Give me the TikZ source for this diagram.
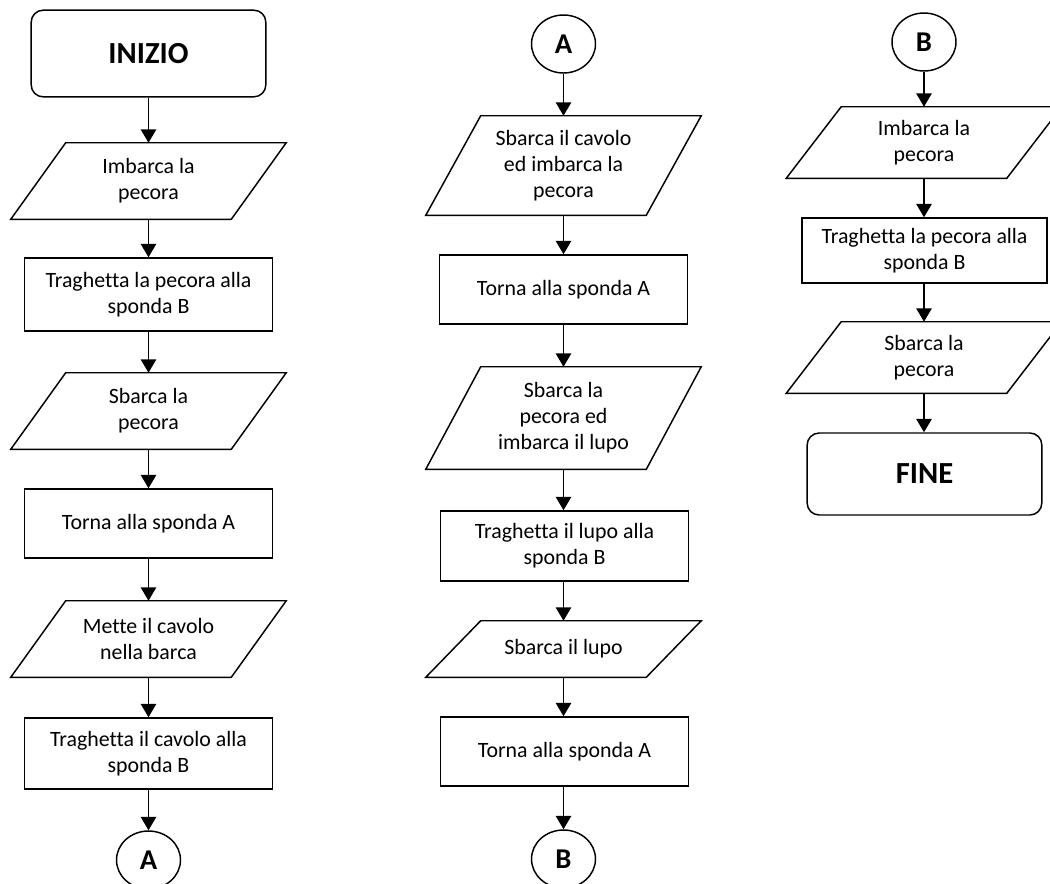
\documentclass[tikz,border=0pt]{standalone}
\usepackage{fontspec}
\setmainfont{Carlito}[Ligatures=NoCommon]
\usetikzlibrary{shapes.geometric, arrows.meta, positioning}

\newcommand{\ioslant}{20.6pt}

\begin{document}
\begin{tikzpicture}[x=0.75pt, y=0.75pt,
    font=\fontsize{16.4}{19.5}\selectfont,
    terminal/.style={draw, rounded corners=9pt, line width=1.1pt, minimum width=176pt, inner sep=0pt, font=\fontsize{23}{28}\selectfont\bfseries},
    process/.style={draw, line width=1.1pt, minimum width=186pt, inner sep=0pt, align=center},
    io/.style={minimum width=165pt, inner sep=0pt, align=center},
    connector/.style={draw, ellipse, line width=1.1pt, minimum width=48pt, minimum height=43.5pt, inner sep=0pt, font=\fontsize{21.5}{25}\selectfont\bfseries},
    arrow/.style={-{Triangle[length=10pt, width=11.5pt]}, line width=1.1pt}
]
\useasboundingbox (0,0) rectangle (1050,-883);

% First column
\node[terminal, minimum height=65pt] (start) at (148.5,-53.5) {INIZIO};
\node[io, minimum height=57pt] (io1) at (148.5,-181) {Imbarca la\\pecora};
\node[process, minimum height=54.75pt] (p1) at (148.5,-294.5) {Traghetta la pecora alla\\sponda B};
\node[io, minimum height=57pt] (io2) at (148.5,-411) {Sbarca la\\pecora};
\node[process, minimum height=51.75pt] (p2) at (148.5,-523.5) {Torna alla sponda A};
\node[io, minimum height=57pt] (io3) at (148.5,-639) {Mette il cavolo\\nella barca};
\node[process, minimum height=53.25pt] (p3) at (148.5,-753.5) {Traghetta il cavolo alla\\sponda B};
\node[connector] (outA) at (148.5,-860) {A};

% Second column
\node[connector] (inA) at (563.5,-44) {A};
\node[io, minimum height=74.25pt] (io4) at (563.5,-165.5) {Sbarca il cavolo\\ed imbarca la\\pecora};
\node[process, minimum height=51.75pt] (p4) at (563.5,-289.5) {Torna alla sponda A};
\node[io, minimum height=76.5pt] (io5) at (563.5,-418) {Sbarca la\\pecora ed\\imbarca il lupo};
\node[process, minimum height=52.5pt] (p5) at (564.5,-546) {Traghetta il lupo alla\\sponda B};
\node[io, minimum height=42pt] (io6) at (563.5,-649) {Sbarca il lupo};
\node[process, minimum height=51.75pt] (p6) at (564.5,-751.5) {Torna alla sponda A};
\node[connector] (outB) at (563.5,-859) {B};

% Third column
\node[connector] (inB) at (924,-42) {B};
\node[io, minimum height=53.25pt] (io7) at (924,-142.5) {Imbarca la\\pecora};
\node[process, minimum height=48.75pt, minimum width=184pt] (p7) at (924.5,-250.5) {Traghetta la pecora alla\\sponda B};
\node[io, minimum height=53.25pt] (io8) at (924,-357.5) {Sbarca la\\pecora};
\node[terminal, minimum height=61.5pt] (stop) at (924.5,-474) {FINE};

% Input/output outlines
\foreach \n in {io1,io2,io3,io4,io5,io6,io7,io8}
  \draw[line width=1.1pt] ([xshift=\ioslant]\n.north west) -- ([xshift=\ioslant]\n.north east)
    -- ([xshift=-\ioslant]\n.south east) -- ([xshift=-\ioslant]\n.south west) -- cycle;

% Arrows
\draw[arrow] (start) -- (io1);
\draw[arrow] (io1) -- (p1);
\draw[arrow] (p1) -- (io2);
\draw[arrow] (io2) -- (p2);
\draw[arrow] (p2) -- (io3);
\draw[arrow] (io3) -- (p3);
\draw[arrow] (p3) -- (outA);

\draw[arrow] (inA) -- (io4);
\draw[arrow] (io4) -- (p4);
\draw[arrow] (p4) -- (io5);
\draw[arrow] (io5.south) -- (io5.south |- p5.north);
\draw[arrow] (io5.south |- p5.south) -- (io6);
\draw[arrow] (io6.south) -- (io6.south |- p6.north);
\draw[arrow] (io6.south |- p6.south) -- (outB);

\draw[arrow] (inB) -- (io7);
\draw[arrow] (io7.south) -- (io7.south |- p7.north);
\draw[arrow] (io7.south |- p7.south) -- (io8);
\draw[arrow] (io8) -- (io8.south |- stop.north);

\end{tikzpicture}
\end{document}
